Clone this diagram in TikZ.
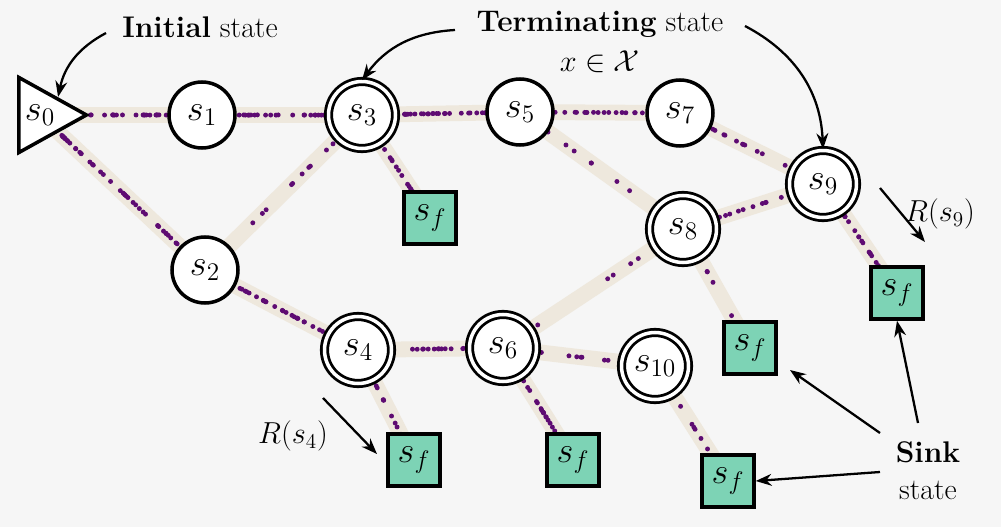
\documentclass[tikz,border=0pt]{standalone}
\usetikzlibrary{shapes.geometric,backgrounds,calc,arrows.meta}
\definecolor{bg}{HTML}{F6F6F6}
\definecolor{edgec}{HTML}{EEE8DD}
\definecolor{dotc}{HTML}{5E0B72}
\definecolor{sinkc}{HTML}{7DD3B5}
\tikzset{
 st/.style={circle,draw,line width=2pt,fill=white,minimum size=1.32cm,inner sep=0pt,font=\fontsize{22}{24}\selectfont},
 term/.style={circle,draw,line width=1.6pt,double=white,double distance=2pt,fill=white,minimum size=1.34cm,inner sep=0pt,font=\fontsize{22}{24}\selectfont},
 sink/.style={rectangle,draw,line width=2pt,fill=sinkc,minimum size=1.04cm,inner sep=0pt,font=\fontsize{22}{24}\selectfont},
 init/.style={isosceles triangle,draw,line width=2pt,fill=white,isosceles triangle stretches,minimum width=1.5cm,minimum height=1.35cm,inner sep=0pt,font=\fontsize{22}{24}\selectfont},
 flow/.style={edgec,line width=9pt},
 lab/.style={font=\fontsize{17}{20}\selectfont},
 ar/.style={-{Stealth[length=9pt]},line width=1.3pt},
}
\newcommand{\flowdots}[3]{%
 \draw[flow] (#1) -- (#2);
 \foreach \i in {1,...,#3}{%
  \pgfmathsetmacro{\rr}{rnd}
  \pgfmathsetmacro{\dx}{rand*0.13}
  \pgfmathsetmacro{\dy}{rand*0.13}
  \fill[dotc] ($(#1)!\rr!(#2)+(\dx,\dy)$) circle (1.4pt);
 }}
\begin{document}
\begin{tikzpicture}[x=0.02cm,y=-0.02cm]
\useasboundingbox (0,0) rectangle (1001,527);
\node[init] (s0) at (40,115) {$s_0$\hspace{0.6em}};
\node[st] (s1) at (202,115) {$s_1$};
\node[term] (s3) at (362,115) {$s_3$};
\node[st] (s5) at (520,112) {$s_5$};
\node[st] (s7) at (680,113) {$s_7$};
\node[term] (s9) at (823,184) {$s_9$};
\node[term] (s8) at (683,229) {$s_8$};
\node[st] (s2) at (205,270) {$s_2$};
\node[term] (s4) at (358,350) {$s_4$};
\node[term] (s6) at (503,348) {$s_6$};
\node[term] (s10) at (655,366) {$s_{10}$};
\node[sink] (f1) at (430,218) {$s_f$};
\node[sink] (f2) at (414,460) {$s_f$};
\node[sink] (f3) at (573,460) {$s_f$};
\node[sink] (f4) at (728,481) {$s_f$};
\node[sink] (f5) at (750,348) {$s_f$};
\node[sink] (f6) at (897,293) {$s_f$};
\begin{scope}[on background layer]
\fill[bg] (0,0) rectangle (1001,527);
\pgfmathsetseed{7}
\flowdots{s0.center}{s1.center}{45}
\flowdots{s1.center}{s3.center}{40}
\flowdots{s3.center}{s5.center}{35}
\flowdots{s5.center}{s7.center}{28}
\flowdots{s7.center}{s9.center}{25}
\flowdots{s0.center}{s2.center}{55}
\flowdots{s2.center}{s3.center}{14}
\flowdots{s2.center}{s4.center}{40}
\flowdots{s4.center}{s6.center}{30}
\flowdots{s6.center}{s10.center}{8}
\flowdots{s6.center}{s8.center}{6}
\flowdots{s5.center}{s8.center}{14}
\flowdots{s8.center}{s9.center}{14}
\flowdots{s3.center}{f1.center}{25}
\flowdots{s4.center}{f2.center}{18}
\flowdots{s6.center}{f3.center}{25}
\flowdots{s10.center}{f4.center}{10}
\flowdots{s8.center}{f5.center}{12}
\flowdots{s9.center}{f6.center}{30}
\end{scope}
% labels
\node[lab] (tinit) at (200,27) {\textbf{Initial} state};
\node[lab] (tterm) at (600,24) {\textbf{Terminating} state};
\node[lab] (tx) at (600,62) {$x\in\mathcal{X}$};
\node[lab] (r9) at (940,214) {$R(s_9)$};
\node[lab] (r4) at (293,436) {$R(s_4)$};
\node[lab] (tsink) at (928,452) {\textbf{Sink}};
\node[lab] (tstate) at (928,490) {state};
\coordinate (a1) at (106,33);
\draw[ar] (a1) to[bend right=25] (s0.north east);
\coordinate (a2) at (455,30);
\draw[ar] (a2) to[bend right=25] (s3.north);
\coordinate (a3) at (745,26);
\draw[ar] (a3) to[bend left=30] (s9.north);
\coordinate (a4) at (880,188);
\coordinate (a5) at (925,242);
\draw[ar] (a4) -- (a5);
\coordinate (a6) at (323,398);
\coordinate (a7) at (377,454);
\draw[ar] (a6) -- (a7);
\coordinate (b1) at (880,433);
\coordinate (b2) at (790,370);
\draw[ar] (b1) -- (b2);
\coordinate (b3) at (918,423);
\draw[ar] (b3) -- (f6.south);
\coordinate (b4) at (880,472);
\draw[ar] (b4) -- (f4.east);
\end{tikzpicture}
\end{document}
